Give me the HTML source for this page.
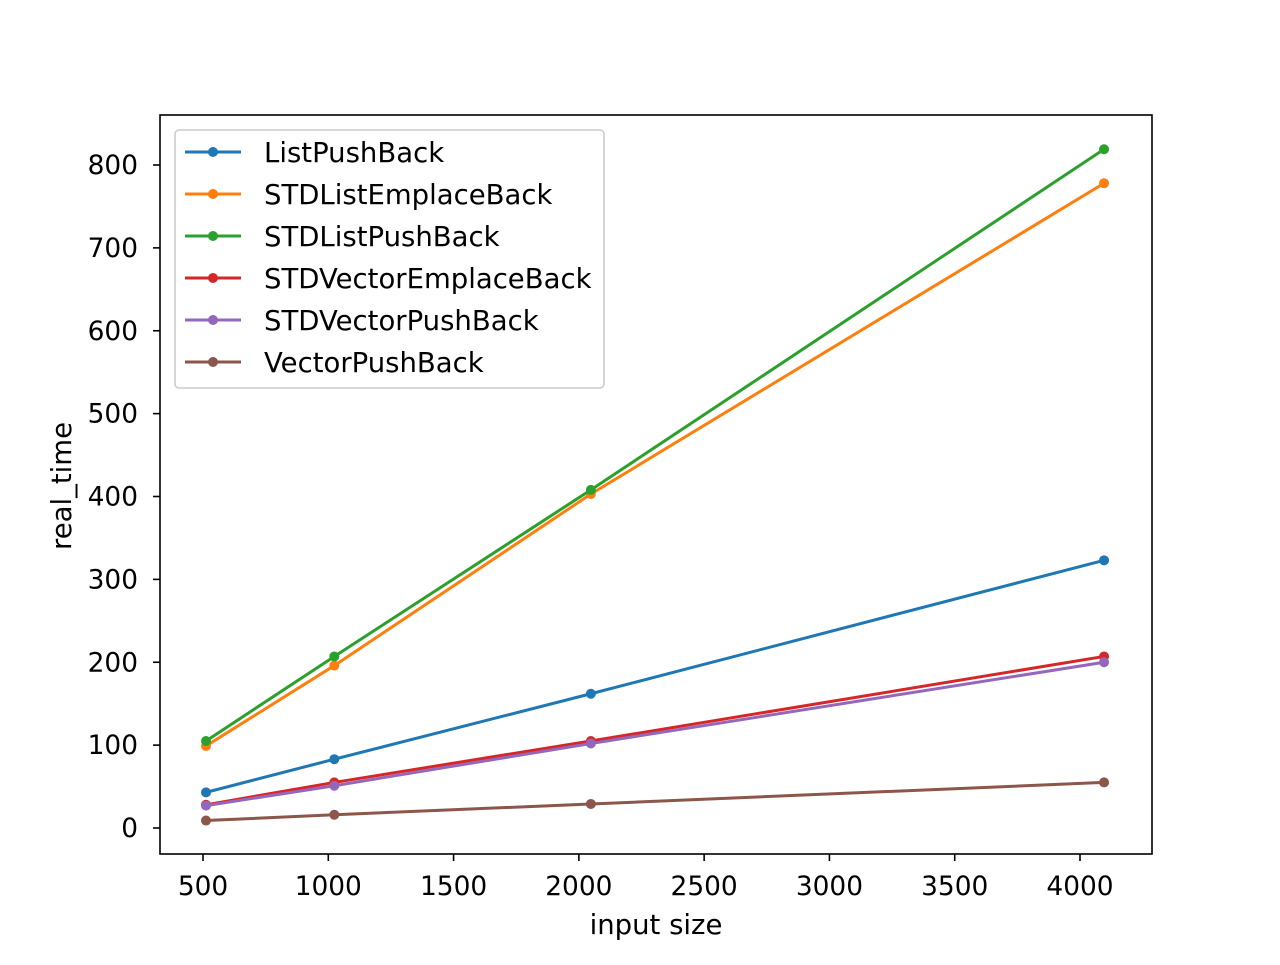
<!DOCTYPE html>
<html><head><meta charset="utf-8"><style>
body{margin:0;background:#fff}
svg{font-family:"DejaVu Sans","Liberation Sans",sans-serif}
</style></head><body>
<svg id="chart" width="1280" height="960">
<rect x="0" y="0" width="1280" height="960" fill="#fff"/>
<g id="marks"></g>
<rect x="160" y="115" width="992" height="739" fill="none" stroke="#000" stroke-width="1.6"/>
<g id="xticks"></g><g id="yticks"></g>
<text x="656" y="934" font-size="27.5" text-anchor="middle">input size</text>
<text transform="translate(71,486) rotate(-90)" font-size="27.5" text-anchor="middle">real_time</text>
<g id="legend"></g>
</svg>
<script>
const xs=[512,1024,2048,4096];
const names=["ListPushBack","STDListEmplaceBack","STDListPushBack","STDVectorEmplaceBack","STDVectorPushBack","VectorPushBack"];
const colors=["#1f77b4","#ff7f0e","#2ca02c","#d62728","#9467bd","#8c564b"];
const sListPushBack=[43,83,162,323];
const sSTDListEmplaceBack=[99,196,403,778];
const sSTDListPushBack=[105,207,408,819];
const sSTDVectorEmplaceBack=[28,55,105,207];
const sSTDVectorPushBack=[27,51,102,200];
const sVectorPushBack=[9,16,29,55];
const series=[sListPushBack,sSTDListEmplaceBack,sSTDListPushBack,sSTDVectorEmplaceBack,sSTDVectorPushBack,sVectorPushBack];
const xTicks=[500,1000,1500,2000,2500,3000,3500,4000];
const yTicks=[0,100,200,300,400,500,600,700,800];
const X=v=>203+(v-500)*(877/3500);
const Y=v=>828-v*(663/800);
const NS="http://www.w3.org/2000/svg";
function mk(t,a,p){const e=document.createElementNS(NS,t);for(const k in a)e.setAttribute(k,a[k]);p.appendChild(e);return e;}
const xt=document.getElementById('xticks');
xTicks.forEach(v=>{
 const l=mk('line',{x1:X(v),x2:X(v),y1:854,y2:861,stroke:'#000','stroke-width':1.6},xt);
 
 
 const t=mk('text',{x:X(v),y:895,'font-size':26.4,'text-anchor':'middle'},xt);t.textContent=v;
 
 
});
const yt=document.getElementById('yticks');
yTicks.forEach(v=>{
 const l=mk('line',{x1:153,x2:160,y1:Y(v),y2:Y(v),stroke:'#000','stroke-width':1.6},yt);
 
 
 const t=mk('text',{x:138,y:Y(v)+9,'font-size':26.4,'text-anchor':'end'},yt);t.textContent=v;
 
 
});
const g=document.getElementById('marks');
series.forEach((s,i)=>{
 const p=mk('polyline',{points:s.map((v,j)=>X(xs[j])+','+Y(v)).join(' '),fill:'none',stroke:colors[i],'stroke-width':3},g);
 
 
 s.forEach((v,j)=>{
  const c=mk('circle',{cx:X(xs[j]),cy:Y(v),r:5,fill:colors[i]},g);
  
  
 });
});
const lg=document.getElementById('legend');
const box=mk('rect',{x:175,y:130,width:429,height:258,rx:4,fill:'#fff','fill-opacity':0.8,stroke:'#ccc','stroke-width':1.6},lg);


names.forEach((n,i)=>{
 const y=152+i*42;
 const l=mk('line',{x1:185,x2:241,y1:y,y2:y,stroke:colors[i],'stroke-width':3},lg);
 
 
 mk('circle',{cx:213,cy:y,r:5,fill:colors[i]},lg);
 const t=mk('text',{x:264,y:y+10,'font-size':27.5},lg);t.textContent=n;
 
 
});
</script>
</body></html>
